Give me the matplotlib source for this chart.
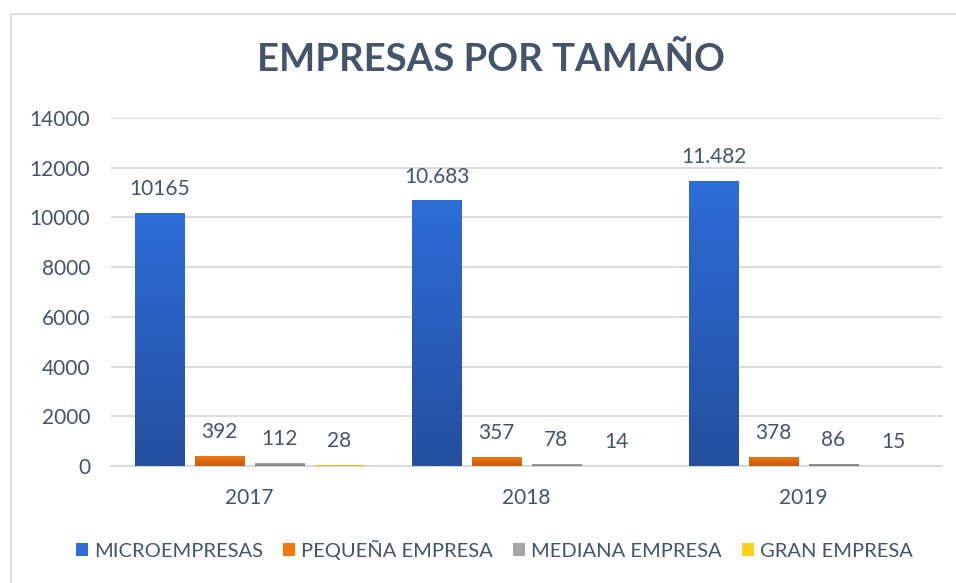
import matplotlib
matplotlib.use("Agg")
import matplotlib.pyplot as plt
import numpy as np
from matplotlib.patches import Rectangle
from matplotlib.colors import LinearSegmentedColormap

plt.rcParams['font.family'] = ['Lato', 'DejaVu Sans']

# data
years = ['2017', '2018', '2019']
series = ['MICROEMPRESAS', 'PEQUEÑA EMPRESA', 'MEDIANA EMPRESA', 'GRAN EMPRESA']
micro = [10165, 10683, 11482]
pequena = [392, 357, 378]
mediana = [112, 78, 86]
gran = [28, 14, 15]
micro_labels = ['10165', '10.683', '11.482']

values = [micro, pequena, mediana, gran]
labels = [micro_labels, [str(v) for v in pequena], [str(v) for v in mediana], [str(v) for v in gran]]
# top / bottom colours of the gradient fill
colors = [('#2E6CD8', '#234F9E'), ('#F4780E', '#C65A10'),
          ('#A6A6A6', '#7C7C7C'), ('#FFD21A', '#E0A800')]
text_col = '#44546A'

fig = plt.figure(figsize=(9.56, 5.83), dpi=100)
fig.patches.append(Rectangle((11/956, -0.05), 1.1, 1 - 14/583 + 0.05, transform=fig.transFigure,
                             fill=False, edgecolor='#D9D9D9', linewidth=1.2))
ax = fig.add_axes([0.116, 0.2007, 0.869, 0.597])

x = np.arange(len(years))
slot = 0.216
width = 0.177

for i, (vals, labs, (ctop, cbot)) in enumerate(zip(values, labels, colors)):
    pos = x + (i - 1.5) * slot
    bars = ax.bar(pos, vals, width, color=ctop, label=series[i], zorder=3)
    cmap = LinearSegmentedColormap.from_list('g%d' % i, [cbot, ctop])
    grad = np.linspace(0, 1, 100).reshape(-1, 1)
    for b, lab in zip(bars, labs):
        x0, y0 = b.get_x(), b.get_y()
        w, h = b.get_width(), b.get_height()
        im = ax.imshow(grad, cmap=cmap, origin='lower', aspect='auto',
                       extent=[x0, x0 + w, y0, y0 + h], zorder=4)
        im.set_clip_path(b)
        ax.annotate(lab, (x0 + w / 2, y0 + h), xytext=(0, 10), textcoords='offset points',
                    ha='center', va='bottom', fontsize=15, color=text_col)

ax.set_xlim(-0.5, 2.5)
ax.set_ylim(0, 14000)
ax.set_yticks(np.arange(0, 14001, 2000))
ax.set_xticks(x)
ax.set_xticklabels(years)
ax.grid(axis='y', color='#D9D9D9', linewidth=1.3, zorder=0)
for s in ['top', 'right', 'left']:
    ax.spines[s].set_visible(False)
ax.spines['bottom'].set_color('#D9D9D9')
ax.spines['bottom'].set_linewidth(1.3)
ax.tick_params(axis='both', length=0, labelsize=15, labelcolor=text_col)
ax.tick_params(axis='x', pad=16)
ax.tick_params(axis='y', pad=15)

fig.text(0.514, 0.898, 'EMPRESAS POR TAMAÑO', ha='center', va='center',
         fontsize=27.5, fontweight='bold', color=text_col)

leg = fig.legend(loc='center', bbox_to_anchor=(0.517, 0.057), ncol=4, frameon=False,
                 fontsize=14.5, handlelength=0.6, handleheight=0.6, handletextpad=0.3,
                 columnspacing=1.0)
for t in leg.get_texts():
    t.set_color(text_col)

fig.savefig('out.png', dpi=100)
